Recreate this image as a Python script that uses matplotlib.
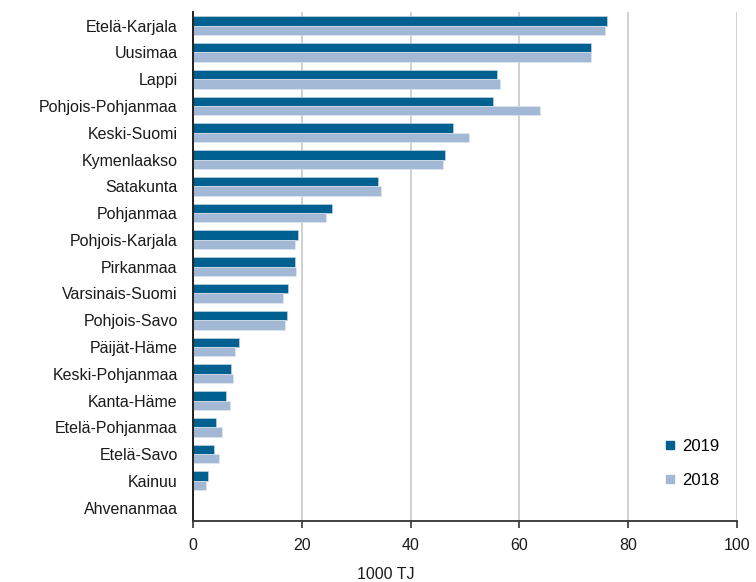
import matplotlib.pyplot as plt
import numpy as np
from matplotlib.lines import Line2D

plt.rcParams['font.family'] = ['Liberation Sans', 'DejaVu Sans']

regions = ['Etelä-Karjala', 'Uusimaa', 'Lappi', 'Pohjois-Pohjanmaa', 'Keski-Suomi',
           'Kymenlaakso', 'Satakunta', 'Pohjanmaa', 'Pohjois-Karjala', 'Pirkanmaa',
           'Varsinais-Suomi', 'Pohjois-Savo', 'Päijät-Häme', 'Keski-Pohjanmaa',
           'Kanta-Häme', 'Etelä-Pohjanmaa', 'Etelä-Savo', 'Kainuu', 'Ahvenanmaa']
v2019 = [76.1, 73.1, 55.8, 55.2, 47.8, 46.4, 34.0, 25.5, 19.3, 18.7,
         17.5, 17.2, 8.4, 6.9, 6.0, 4.2, 3.9, 2.7, 0.0]
v2018 = [75.8, 73.1, 56.4, 63.7, 50.8, 46.0, 34.5, 24.5, 18.7, 19.0,
         16.6, 16.9, 7.8, 7.4, 6.8, 5.4, 4.8, 2.4, 0.0]

c2019 = '#00608f'
c2018 = '#a3b8d4'

fig = plt.figure(figsize=(7.56, 5.82), dpi=100)
ax = fig.add_axes([0.2553, 0.1048, 0.975 - 0.2553, 0.979 - 0.1048])

y = np.arange(len(regions))
h = 0.35
ax.barh(y - h / 2, v2019, height=h, color=c2019, edgecolor='#cfdce8', linewidth=0.4, zorder=3)
ax.barh(y + h / 2, v2018, height=h, color=c2018, edgecolor='#e4ebf3', linewidth=0.4, zorder=3)

ax.set_xlim(0, 100)
ax.set_ylim(len(regions) - 0.5, -0.5)
ax.set_xticks(range(0, 101, 20))
ax.set_yticks(y)
ax.set_yticklabels(regions)
ax.tick_params(axis='y', length=0, pad=11, labelsize=11.5, colors='#1a1a1a')
ax.tick_params(axis='x', length=5, width=1.2, color='#333333', pad=7, labelsize=11.5, labelcolor='#1a1a1a')
ax.xaxis.grid(True, color='#c8c8c8', linewidth=1.2, zorder=0)
ax.set_axisbelow(True)

for s in ['top', 'right']:
    ax.spines[s].set_visible(False)
for s in ['left', 'bottom']:
    ax.spines[s].set_zorder(5)
ax.spines['left'].set_color('#111111')
ax.spines['left'].set_linewidth(1.3)
ax.spines['bottom'].set_color('#333333')
ax.spines['bottom'].set_linewidth(1.3)

handles = [Line2D([], [], marker='s', linestyle='', color=c2019, markersize=6),
           Line2D([], [], marker='s', linestyle='', color=c2018, markersize=6)]
ax.legend(handles, ['2019', '2018'], loc='lower right', bbox_to_anchor=(0.995, 0.035),
          frameon=False, fontsize=12, handletextpad=0.3, labelspacing=1.15,
          handlelength=0.8)

fig.text(0.51, 0.026, '1000 TJ', ha='center', va='top', fontsize=11.5, color='#1a1a1a')

fig.savefig('out.png', dpi=100)
